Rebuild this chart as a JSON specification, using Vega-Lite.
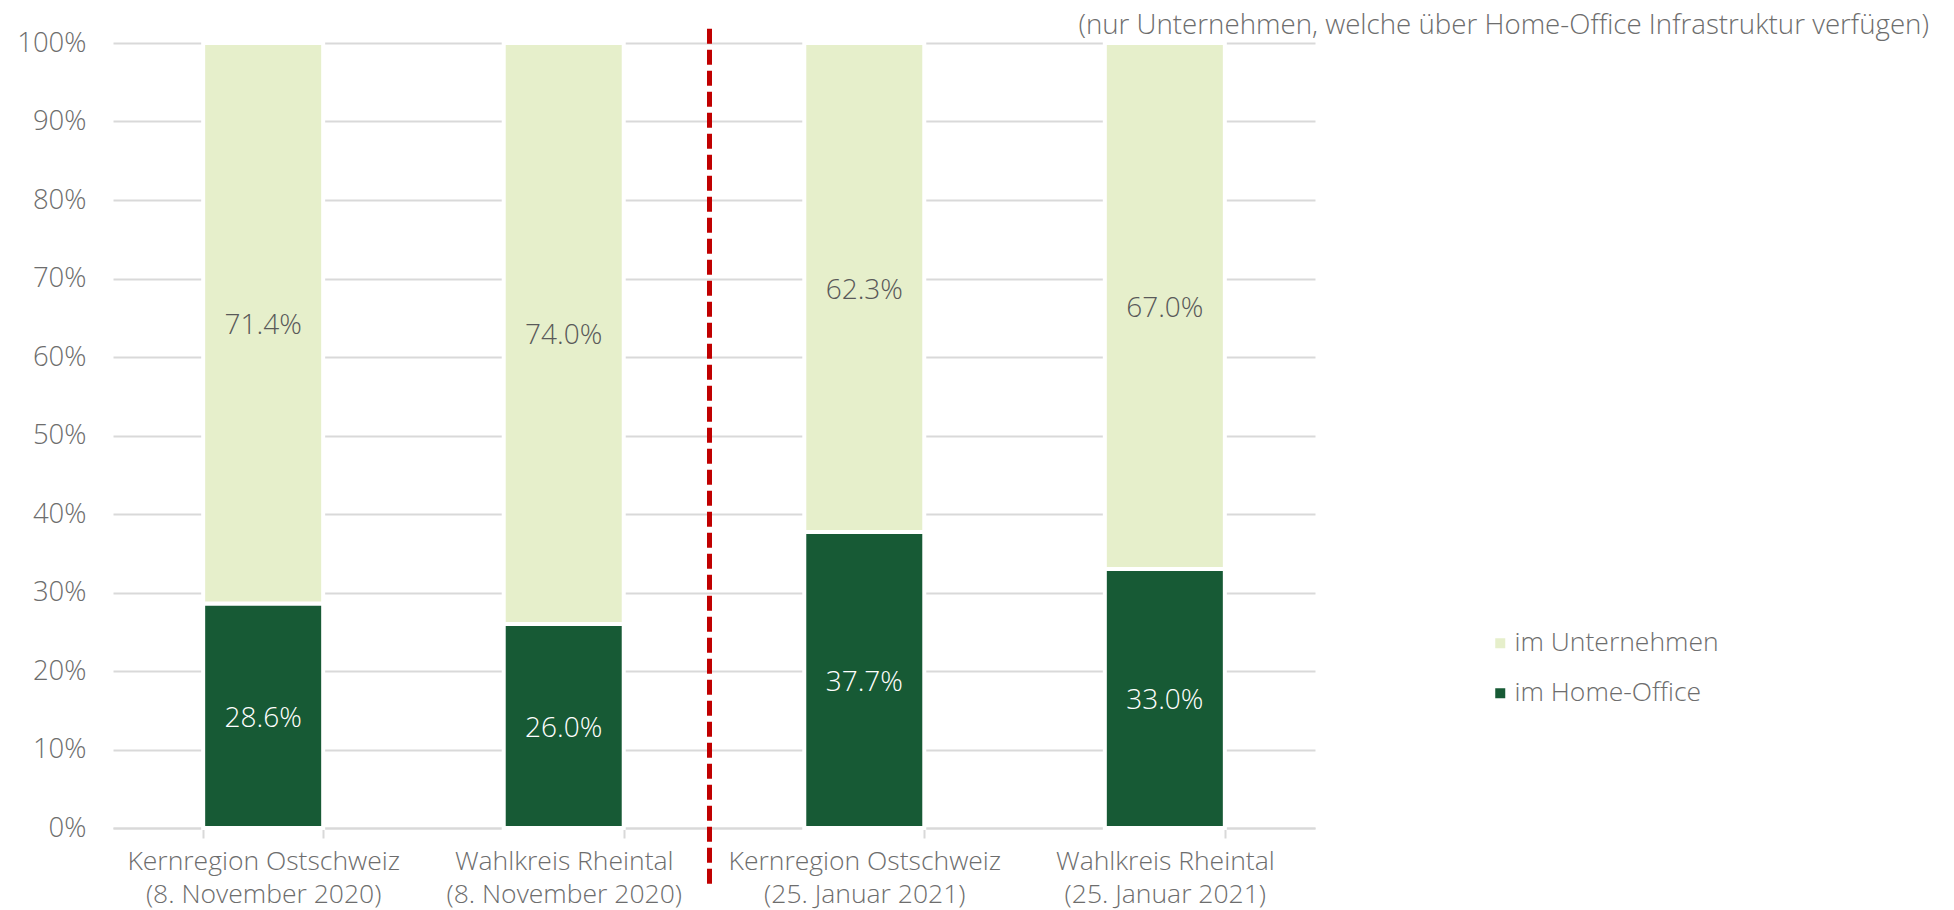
{
  "$schema": "https://vega.github.io/schema/vega-lite/v6.json",
  "width": 1202,
  "height": 785,
  "autosize": {"type": "none"},
  "padding": {"left": 113, "top": 43, "right": 639, "bottom": 82},
  "background": "white",
  "config": {
    "font": "Open Sans",
    "view": {"stroke": null}
  },
  "title": {
    "text": "(nur Unternehmen, welche über Home-Office Infrastruktur verfügen)",
    "anchor": "end",
    "frame": "group",
    "dx": 614,
    "dy": 19,
    "offset": 6,
    "fontSize": 27.7,
    "fontWeight": 300,
    "color": "#6d6d6d",
    "font": "Open Sans"
  },
  "datasets": {
    "bars": [
      {"gruppe": "Kernregion Ostschweiz|(8. November 2020)", "ort": "im Home-Office", "anteil": 0.286},
      {"gruppe": "Kernregion Ostschweiz|(8. November 2020)", "ort": "im Unternehmen", "anteil": 0.714},
      {"gruppe": "Wahlkreis Rheintal|(8. November 2020)", "ort": "im Home-Office", "anteil": 0.26},
      {"gruppe": "Wahlkreis Rheintal|(8. November 2020)", "ort": "im Unternehmen", "anteil": 0.74},
      {"gruppe": "Kernregion Ostschweiz|(25. Januar 2021)", "ort": "im Home-Office", "anteil": 0.377},
      {"gruppe": "Kernregion Ostschweiz|(25. Januar 2021)", "ort": "im Unternehmen", "anteil": 0.623},
      {"gruppe": "Wahlkreis Rheintal|(25. Januar 2021)", "ort": "im Home-Office", "anteil": 0.33},
      {"gruppe": "Wahlkreis Rheintal|(25. Januar 2021)", "ort": "im Unternehmen", "anteil": 0.67}
    ],
    "trenner": [{"pos": 1.985}]
  },
  "layer": [
    {
      "data": {"name": "bars"},
      "layer": [
        {
          "mark": {"type": "bar", "stroke": "white", "strokeWidth": 4},
          "encoding": {
            "x": {
              "field": "gruppe",
              "type": "nominal",
              "sort": null,
              "scale": {"paddingInner": 0.6007, "paddingOuter": 0.3},
              "axis": {
                "title": null,
                "labelAngle": 0,
                "labelExpr": "split(datum.label, '|')",
                "labelFontSize": 26.5,
                "labelFont": "Open Sans",
                "labelFontWeight": 300,
                "labelColor": "#6d6d6d",
                "labelLineHeight": 33,
                "labelPadding": 10,
                "labelLimit": 0,
                "tickBand": "extent",
                "tickSize": 10,
                "tickColor": "#d9d9d9",
                "tickWidth": 2,
                "domainColor": "#d9d9d9",
                "domainWidth": 2
              }
            },
            "y": {
              "field": "anteil",
              "type": "quantitative",
              "stack": "zero",
              "scale": {"domain": [0, 1], "nice": false},
              "axis": {
                "title": null,
                "values": [0, 0.1, 0.2, 0.3, 0.4, 0.5, 0.6, 0.7, 0.8, 0.9, 1],
                "format": ".0%",
                "labelFontSize": 27.5,
                "labelFont": "Open Sans",
                "labelFontWeight": 300,
                "labelColor": "#6d6d6d",
                "labelPadding": 27,
                "domain": false,
                "ticks": false,
                "grid": true,
                "gridColor": "#d9d9d9",
                "gridWidth": 2
              }
            },
            "color": {
              "field": "ort",
              "type": "nominal",
              "scale": {"domain": ["im Unternehmen", "im Home-Office"], "range": ["#e6efcb", "#175a35"]},
              "legend": {
                "title": null,
                "orient": "none",
                "legendX": 1374,
                "legendY": 587,
                "symbolType": "square",
                "symbolSize": 100,
                "symbolStrokeWidth": 0,
                "labelFontSize": 26.5,
                "labelFont": "Open Sans",
                "labelFontWeight": 300,
                "labelColor": "#6d6d6d",
                "labelOffset": 1,
                "labelLimit": 0,
                "rowPadding": 23
              }
            },
            "order": {"field": "ort", "sort": "ascending"}
          }
        },
        {
          "transform": [
            {"stack": "anteil", "groupby": ["gruppe"], "sort": [{"field": "ort", "order": "ascending"}], "as": ["y0", "y1"]},
            {"calculate": "(datum.y0 + datum.y1) / 2", "as": "mitte"}
          ],
          "mark": {"type": "text", "fontSize": 28, "font": "Open Sans", "fontWeight": 300, "baseline": "middle", "dy": 3},
          "encoding": {
            "x": {"field": "gruppe", "type": "nominal", "sort": null},
            "y": {"field": "mitte", "type": "quantitative"},
            "text": {"field": "anteil", "type": "quantitative", "format": ".1%"},
            "color": {
              "condition": {"test": "datum.ort === 'im Home-Office'", "value": "white"},
              "value": "#595959"
            }
          }
        }
      ]
    },
    {
      "data": {"name": "trenner"},
      "mark": {"type": "rule", "color": "#c00000", "strokeWidth": 5, "strokeDash": [15, 6]},
      "encoding": {
        "x": {"field": "pos", "type": "quantitative", "scale": {"domain": [0, 4], "nice": false, "zero": false}, "axis": null},
        "y": {"datum": 1.018},
        "y2": {"datum": -0.075}
      }
    }
  ],
  "resolve": {"scale": {"x": "independent"}, "axis": {"x": "independent"}}
}
